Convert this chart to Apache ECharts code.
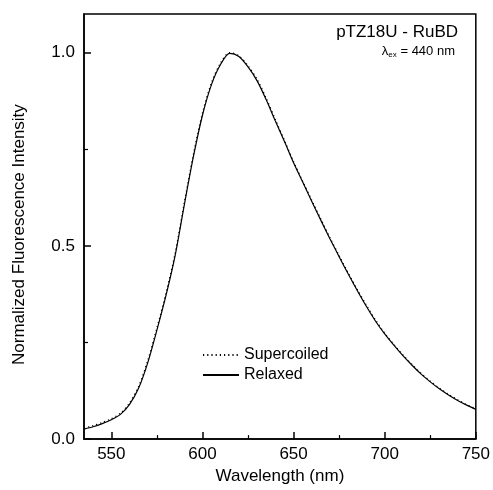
<html>
<head>
    <meta charset="utf-8">
    <script type="text/javascript" src="https://cdn.jsdelivr.net/npm/echarts@6/dist/echarts.min.js"></script>
    <title>pTZ18U - RuBD</title>
    <style>
        body { margin: 0; background: #fff; }
        #main { width: 493px; height: 490px; }
    </style>
</head>
<body>
<div id="main"></div>
<script type="text/javascript">
    // wavelength (nm)
    var wavelength = [535, 540, 545, 550, 555, 560, 565, 570, 575, 580, 585, 590, 595, 600, 605, 610, 615, 620,
        625, 630, 635, 640, 645, 650, 655, 660, 665, 670, 675, 680, 685, 690, 695, 700, 705, 710, 715, 720,
        725, 730, 735, 740, 745, 750];
    var relaxed = [0.026, 0.032, 0.040, 0.050, 0.064, 0.090, 0.132, 0.198, 0.282, 0.372, 0.475, 0.605, 0.730, 0.838,
        0.918, 0.970, 0.998, 0.990, 0.963, 0.927, 0.878, 0.823, 0.770, 0.715, 0.665, 0.615, 0.566, 0.518,
        0.472, 0.427, 0.384, 0.343, 0.305, 0.272, 0.243, 0.216, 0.191, 0.168, 0.148, 0.130, 0.114, 0.100,
        0.088, 0.077];
    var supercoiled = [0.028, 0.035, 0.043, 0.053, 0.067, 0.094, 0.137, 0.204, 0.288, 0.378, 0.481, 0.611, 0.736, 0.844,
        0.923, 0.974, 1.000, 0.992, 0.966, 0.931, 0.882, 0.827, 0.773, 0.718, 0.667, 0.618, 0.569, 0.521,
        0.475, 0.430, 0.387, 0.346, 0.308, 0.274, 0.245, 0.218, 0.193, 0.170, 0.150, 0.132, 0.116, 0.102,
        0.089, 0.078];
    var xTicks = [550, 600, 650, 700, 750];
    var xMinor = [575, 625, 675, 725];
    var yTicks = [0.0, 0.5, 1.0];
    var yMinor = [0.25, 0.75];

    function pairs(ys) {
        return wavelength.map(function (w, i) { return [w, ys[i]]; });
    }

    var font = '"Liberation Sans", Arial, sans-serif';
    var chart = echarts.init(document.getElementById('main'));

    var option = {
        animation: false,
        backgroundColor: '#fff',
        textStyle: { fontFamily: font, color: '#000' },
        grid: {
            left: 84, right: 17, top: 14, bottom: 50,
            show: true, borderColor: '#000', borderWidth: 1.5
        },
        xAxis: [{
            type: 'value', min: 535, max: 750,
            name: 'Wavelength (nm)', nameLocation: 'middle', nameGap: 26,
            nameTextStyle: { fontSize: 17, color: '#000', fontFamily: font },
            axisLine: { lineStyle: { color: '#000', width: 1.5 } },
            axisTick: { inside: true, length: 7, customValues: xTicks, lineStyle: { color: '#000', width: 1.5 } },
            axisLabel: { fontSize: 17, color: '#000', margin: 7, fontFamily: font, customValues: xTicks },
            splitLine: { show: false }
        }, {
            type: 'value', min: 535, max: 750, position: 'bottom',
            axisLine: { show: false },
            axisTick: { inside: true, length: 4, customValues: xMinor, lineStyle: { color: '#000', width: 1.2 } },
            axisLabel: { show: false },
            splitLine: { show: false }
        }],
        yAxis: [{
            type: 'value', min: 0, max: 1.1,
            name: 'Normalized Fluorescence Intensity', nameLocation: 'middle', nameGap: 56,
            nameTextStyle: { fontSize: 17, color: '#000', fontFamily: font, padding: [0, 16, 0, 0] },
            axisLine: { lineStyle: { color: '#000', width: 1.5 } },
            axisTick: { inside: true, length: 7, customValues: yTicks, lineStyle: { color: '#000', width: 1.5 } },
            axisLabel: {
                fontSize: 17, color: '#000', margin: 9, fontFamily: font, customValues: yTicks,
                formatter: function (v) { return v.toFixed(1); }
            },
            splitLine: { show: false }
        }, {
            type: 'value', min: 0, max: 1.1, position: 'left',
            axisLine: { show: false },
            axisTick: { inside: true, length: 4, customValues: yMinor, lineStyle: { color: '#000', width: 1.2 } },
            axisLabel: { show: false },
            splitLine: { show: false }
        }],
        legend: {
            orient: 'vertical', left: 197, top: 342,
            itemWidth: 36, itemHeight: 14, itemGap: 4,
            itemStyle: { opacity: 0 },
            textStyle: { fontSize: 16, color: '#000', fontFamily: font },
            data: ['Supercoiled', 'Relaxed']
        },
        graphic: [{
            type: 'text', right: 35, top: 24,
            style: { text: 'pTZ18U - RuBD', font: '17px ' + font, fill: '#000' }
        }, {
            type: 'text', right: 38, top: 45,
            style: {
                text: '{l|λ}{s|ex}{t| = 440 nm}',
                fill: '#000',
                rich: {
                    l: { fontSize: 13, fontFamily: font },
                    s: { fontSize: 8, fontFamily: font, verticalAlign: 'bottom', padding: [6, 0, 0, 0] },
                    t: { fontSize: 13, fontFamily: font }
                }
            }
        }],
        series: [{
            name: 'Supercoiled', type: 'line', showSymbol: false, symbol: 'none',
            data: pairs(supercoiled), smooth: 0.3,
            lineStyle: { color: '#000', width: 1.2, type: [1.2, 3] },
            itemStyle: { color: '#000' }
        }, {
            name: 'Relaxed', type: 'line', showSymbol: false, symbol: 'none',
            data: pairs(relaxed), smooth: 0.3,
            lineStyle: { color: '#000', width: 1.2 },
            itemStyle: { color: '#000' }
        }]
    };
    chart.setOption(option);
</script>
</body>
</html>
